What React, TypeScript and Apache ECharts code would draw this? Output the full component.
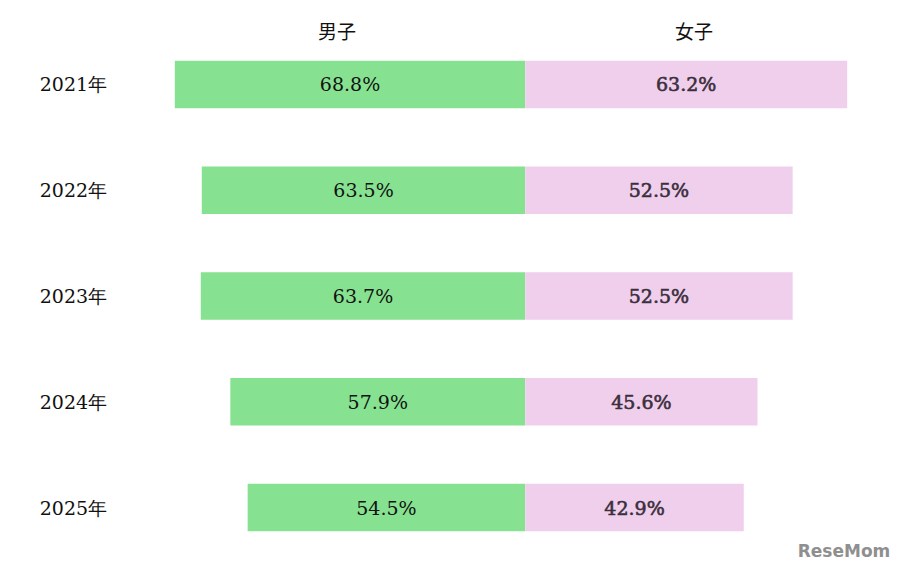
import React, { useEffect, useRef } from "react";
import * as echarts from "echarts";

const years = ["2021年", "2022年", "2023年", "2024年", "2025年"];
const male = [68.8, 63.5, 63.7, 57.9, 54.5];
const female = [63.2, 52.5, 52.5, 45.6, 42.9];
const headers = ["男子", "女子"];

export default function App() {
  const ref = useRef<HTMLDivElement>(null);
  useEffect(() => {
    const chart = echarts.init(ref.current!, null, { renderer: "svg" });
    const fam = "'DejaVu Serif', serif";
    chart.setOption({
      animation: false,
      backgroundColor: "#ffffff",
      grid: { left: 168.7, right: 24.2, top: 31.6, bottom: 12.6, containLabel: false },
      xAxis: {
        type: "value",
        min: -70,
        max: 70,
        show: false,
      },
      yAxis: {
        type: "category",
        inverse: true,
        data: years,
        axisLine: { show: false },
        axisTick: { show: false },
        splitLine: { show: false },
        axisLabel: {
          align: "left",
          margin: 129,
          color: "#111",
          fontSize: 19,
          fontFamily: fam,
        },
      },
      series: [
        {
          name: headers[0],
          type: "bar",
          stack: "total",
          barWidth: "45%",
          data: male.map((v) => -v),
          itemStyle: { color: "#86E290" },
          label: {
            show: true,
            position: "inside",
            color: "#111",
            fontSize: 19,
            fontFamily: fam,
            formatter: (p: any) => Math.abs(p.value).toFixed(1) + "%",
          },
        },
        {
          name: headers[1],
          type: "bar",
          stack: "total",
          barWidth: "45%",
          data: female,
          itemStyle: { color: "#F0CFED" },
          label: {
            show: true,
            position: "inside",
            color: "#3b2f3d",
            fontSize: 19,
            fontFamily: fam,
            textBorderColor: "#3b2f3d",
            textBorderWidth: 0.6,
            formatter: (p: any) => Number(p.value).toFixed(1) + "%",
          },
        },
      ],
      graphic: [
        {
          type: "text",
          x: 337,
          y: 30,
          style: {
            text: headers[0],
            font: "19px 'Noto Sans CJK JP'",
            fill: "#111",
            align: "center",
            verticalAlign: "middle",
          },
        },
        {
          type: "text",
          x: 694,
          y: 30,
          style: {
            text: headers[1],
            font: "19px 'Noto Sans CJK JP'",
            fill: "#111",
            align: "center",
            verticalAlign: "middle",
          },
        },
        {
          type: "text",
          x: 844,
          y: 551,
          style: {
            text: "ReseMom",
            font: "bold 17px 'DejaVu Sans'",
            fill: "#8f8f8f",
            align: "center",
            verticalAlign: "middle",
          },
        },
      ],
    });
    return () => chart.dispose();
  }, []);
  return (
    <div
      ref={ref}
      style={{ position: "fixed", left: 0, top: 0, width: 906, height: 573 }}
    />
  );
}
